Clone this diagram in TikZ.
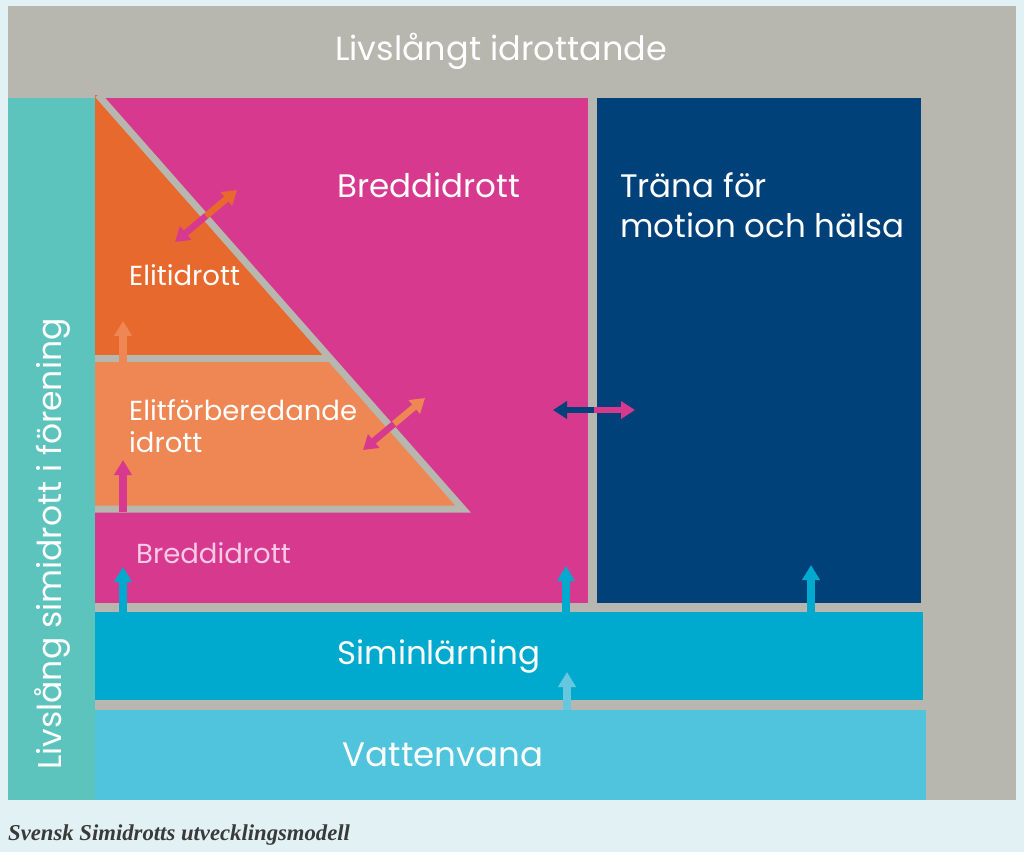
\documentclass[tikz,border=0pt]{standalone}
\usepackage{fontspec}
\setmainfont{Poppins}
\newfontfamily\capfont{Liberation Serif}
\usetikzlibrary{arrows.meta}
\definecolor{bgc}{HTML}{E1F1F4}
\definecolor{panel}{HTML}{B7B6AF}
\definecolor{tealc}{HTML}{5CC4BC}
\definecolor{mag}{HTML}{D7398F}
\definecolor{navy}{HTML}{00417A}
\definecolor{cyanc}{HTML}{00AACF}
\definecolor{lcyan}{HTML}{4FC4DC}
\definecolor{lcyanarr}{HTML}{66C8DF}
\definecolor{orD}{HTML}{E8692E}
\definecolor{orL}{HTML}{EE8753}
\definecolor{pinktxt}{HTML}{F7CBE6}
\definecolor{captxt}{HTML}{3A3A3A}
\tikzset{
  big/.style={text=white,inner sep=0pt,font=\fontsize{32.5}{40}\selectfont},
  small/.style={text=white,inner sep=0pt,font=\fontsize{27.5}{32}\selectfont},
  uparr/.style={line width=8pt,-{Triangle[length=15pt,width=17pt]}},
  dblhalf/.style={line width=6.5pt,-{Triangle[length=14pt,width=17pt]}},
  sep/.style={draw=panel,line width=7pt}
}
\begin{document}
\begin{tikzpicture}[x=1pt,y=-1pt]
\useasboundingbox (0,0) rectangle (1024,852);
\fill[bgc] (0,0) rectangle (1024,852);
\fill[panel] (8,6) rectangle (1016,800);
\fill[tealc] (8,98) rectangle (95,800);
\fill[mag] (95,98) rectangle (588,603);
\fill[navy] (597,98) rectangle (921,603);
\fill[cyanc] (95,612) rectangle (923,700);
\fill[lcyan] (95,710) rectangle (926,800);
% pyramid
\fill[orD] (95,95) -- (98,95) -- (330,358) -- (95,358) -- cycle;
\fill[orL] (95,358) -- (330,358) -- (463,509) -- (95,509) -- cycle;
\draw[sep] (95,358) -- (330,358);
\draw[sep,line join=miter] (95,509) -- (463,509) -- (98,95);
\fill[panel] (8,6) rectangle (1016,95);
% texts
\node[big,font=\fontsize{33.5}{40}\selectfont] (title) at (501,51) {Livslångt idrottande};
\node[big,anchor=west] (bredd1) at (337,185) {Breddidrott};
\node[big,anchor=west,align=left] (trana) at (620,205) {Träna för\\motion och hälsa};
\node[small,anchor=west] (elit) at (129,275) {Elitidrott};
\node[small,anchor=west,align=left] (elitfb) at (129,426) {Elitförberedande\\idrott};
\node[small,anchor=west,text=pinktxt] (bredd2) at (136,553) {Breddidrott};
\node[big] (simin) at (439,657) {Siminlärning};
\node[big,font=\fontsize{34}{40}\selectfont] (vatten) at (443,755) {Vattenvana};
\node[big,rotate=90,font=\fontsize{33}{36}\selectfont] (livs) at (52,544) {Livslång simidrott i förening};
\node[anchor=west,inner sep=0pt,text=captxt,font=\capfont\bfseries\itshape\fontsize{22.7}{26}\selectfont] (cap) at (8,835) {Svensk Simidrotts utvecklingsmodell};
% arrow endpoints
\coordinate (a1s) at (123,363); \coordinate (a1e) at (123,321);
\coordinate (a2s) at (123,512); \coordinate (a2e) at (123,460);
\coordinate (a3s) at (123,612); \coordinate (a3e) at (123,567);
\coordinate (a4s) at (566,612); \coordinate (a4e) at (566,566);
\coordinate (a5s) at (811,612); \coordinate (a5e) at (811,565);
\coordinate (a6s) at (567,710); \coordinate (a6e) at (567,672);
\coordinate (d1m) at (206,216); \coordinate (d1a) at (237,190); \coordinate (d1b) at (175,242);
\coordinate (d2m) at (394,424); \coordinate (d2a) at (425,398); \coordinate (d2b) at (363,450);
\coordinate (d3m) at (594,410); \coordinate (d3a) at (635,410); \coordinate (d3b) at (553,410);
\draw[uparr,orL] (a1s) -- (a1e);
\draw[uparr,mag] (a2s) -- (a2e);
\draw[uparr,cyanc] (a3s) -- (a3e);
\draw[uparr,cyanc] (a4s) -- (a4e);
\draw[uparr,cyanc] (a5s) -- (a5e);
\draw[uparr,lcyanarr] (a6s) -- (a6e);
\draw[dblhalf,orD] (d1m) -- (d1a);
\draw[dblhalf,mag] (d1m) -- (d1b);
\draw[dblhalf,orL] (d2m) -- (d2a);
\draw[dblhalf,mag] (d2m) -- (d2b);
\draw[dblhalf,mag] (d3m) -- (d3a);
\draw[dblhalf,navy] (d3m) -- (d3b);
\end{tikzpicture}
\end{document}
